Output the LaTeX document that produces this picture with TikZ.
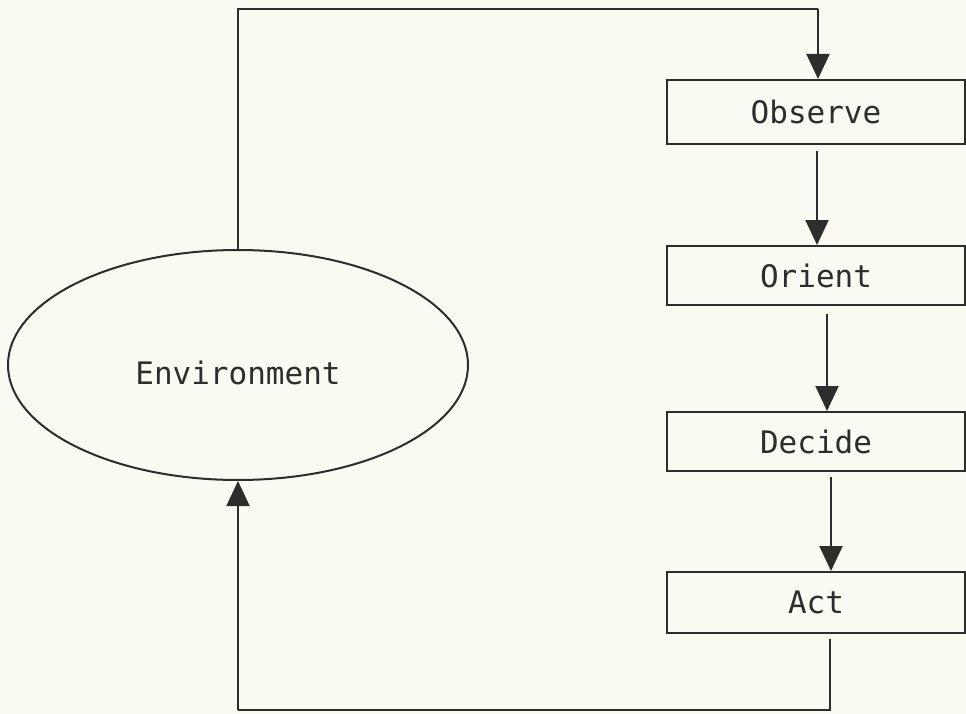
\documentclass[tikz,border=0pt]{standalone}
\usepackage{fontspec}
\setmonofont{DejaVu Sans Mono}
\usetikzlibrary{arrows.meta,shapes.geometric,calc}
\definecolor{paper}{RGB}{250,250,242}
\definecolor{ink}{RGB}{45,45,45}
\begin{document}
\begin{tikzpicture}[x=1pt,y=-1pt,
  every node/.style={font=\ttfamily\fontsize{31}{36}\selectfont, text=ink},
  stepbox/.style={draw=ink, line width=2pt, rectangle, minimum width=298pt, minimum height=61pt, inner sep=0pt},
  envnode/.style={draw=ink, line width=2pt, ellipse, minimum width=460pt, minimum height=230pt, inner sep=0pt, text height=38pt, text depth=0pt},
  flow/.style={draw=ink, line width=2pt, -{Triangle[width=23pt,length=25pt]}},
  link/.style={draw=ink, line width=2pt}]
\fill[paper] (0,0) rectangle (966,714);
\useasboundingbox (0,0) rectangle (966,714);

\node[envnode] (env) at (238,365) {Environment};
\node[stepbox, minimum height=64pt] (obs) at (816,112) {Observe};
\node[stepbox, minimum height=59pt] (ori) at (816,275.5) {Orient};
\node[stepbox, minimum height=59pt] (dec) at (816,441.5) {Decide};
\node[stepbox, minimum height=61pt] (act) at (816,602.5) {Act};

\coordinate (tl) at (env.north |- 0,9);
\coordinate (tr) at ([xshift=2pt]obs.north |- 0,9);
\coordinate (br) at ([xshift=14pt]act.south |- 0,710);
\coordinate (bl) at (env.south |- 0,710);

\draw[link] (env.north) -- (tl) -- (tr);
\draw[flow] (tr) -- ([xshift=2pt]obs.north);
\draw[flow] ([xshift=1pt,yshift=-6pt]obs.south) -- ([xshift=1pt]ori.north);
\draw[flow] ([xshift=11pt,yshift=-8pt]ori.south) -- ([xshift=11pt]dec.north);
\draw[flow] ([xshift=15pt,yshift=-5pt]dec.south) -- ([xshift=15pt]act.north);
\draw[link] ([xshift=14pt,yshift=-5pt]act.south) -- (br) -- (bl);
\draw[flow] (bl) -- (env.south);
\end{tikzpicture}
\end{document}
